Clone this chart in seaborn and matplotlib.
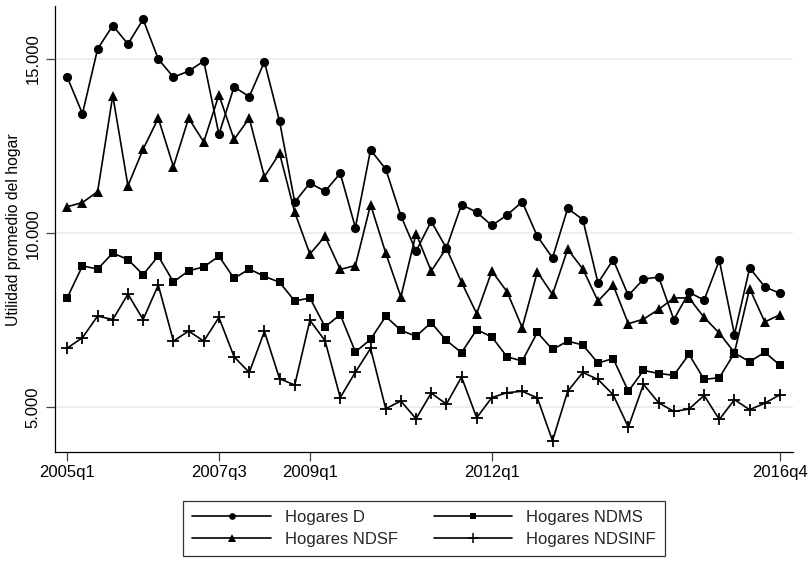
import numpy as np
import pandas as pd
import matplotlib
matplotlib.use("Agg")
import matplotlib.pyplot as plt
from matplotlib.lines import Line2D
from matplotlib.ticker import FuncFormatter, FixedLocator
import seaborn as sns

# Quarterly periods 2005q1 .. 2016q4
periods = [f"{y}q{q}" for y in range(2005, 2017) for q in range(1, 5)]

hogares_d = [14475, 13430, 15290, 15960, 15430, 16140, 15000, 14480, 14650, 14940,
             12840, 14200, 13920, 14920, 13210, 10890, 11440, 11200, 11720, 10160,
             12390, 11840, 10500, 9480, 10340, 9570, 10820, 10600, 10220, 10520,
             10900, 9910, 9290, 10710, 10390, 8570, 9240, 8210, 8680, 8740,
             7520, 8300, 8080, 9220, 7090, 9000, 8460, 8270]

hogares_ndms = [8150, 9060, 8970, 9430, 9240, 8810, 9340, 8600, 8920, 9030,
                9340, 8700, 8970, 8760, 8590, 8050, 8140, 7310, 7660, 6590,
                6950, 7610, 7210, 7040, 7430, 6920, 6570, 7230, 7020, 6450,
                6330, 7150, 6660, 6900, 6790, 6270, 6400, 5460, 6060, 5970,
                5920, 6520, 5800, 5850, 6560, 6310, 6580, 6210]

hogares_ndsf = [10760, 10880, 11190, 13950, 11360, 12410, 13300, 11910, 13300, 12620,
                13970, 12690, 13300, 11620, 12290, 10600, 9400, 9910, 8960, 9070,
                10820, 9430, 8170, 9990, 8910, 9570, 8590, 7690, 8910, 8320,
                7290, 8890, 8240, 9540, 8970, 8050, 8510, 7400, 7530, 7810,
                8140, 8140, 7580, 7130, 6570, 8410, 7450, 7660]

hogares_ndsinf = [6700, 7000, 7620, 7520, 8250, 7520, 8510, 6900, 7190, 6900,
                  7580, 6450, 6000, 7180, 5820, 5640, 7500, 6910, 5280, 6010,
                  6690, 4960, 5180, 4670, 5410, 5090, 5870, 4700, 5280, 5420,
                  5460, 5270, 4040, 5460, 6000, 5800, 5360, 4430, 5660, 5130,
                  4880, 4950, 5340, 4650, 5220, 4930, 5120, 5360]

tick_labels = ["2005q1", "2007q3", "2009q1", "2012q1", "2016q4"]
y_ticks = [5000, 10000, 15000]

df = pd.DataFrame({
    "t": np.arange(len(periods)),
    "periodo": periods,
    "Hogares D": hogares_d,
    "Hogares NDMS": hogares_ndms,
    "Hogares NDSF": hogares_ndsf,
    "Hogares NDSINF": hogares_ndsinf,
})

sns.set_theme(style="white")
plt.rcParams["font.family"] = ["Liberation Sans", "DejaVu Sans"]

fig = plt.figure(figsize=(8.09, 5.64), dpi=100)
ax = fig.add_axes([55 / 809, 1 - 452.3 / 564, (793 - 55) / 809, (452.3 - 6) / 564])

styles = {
    "Hogares D": dict(marker="o", markersize=6.6, mew=0),
    "Hogares NDMS": dict(marker="s", markersize=6.0, mew=0),
    "Hogares NDSF": dict(marker="^", markersize=7.4, mew=0),
    "Hogares NDSINF": dict(marker="+", markersize=9, mew=1.3),
}

for col in ["Hogares D", "Hogares NDSF", "Hogares NDMS", "Hogares NDSINF"]:
    sns.lineplot(data=df, x="t", y=col, ax=ax, color="black", linewidth=1.2,
                 markeredgecolor="black", legend=False, zorder=3, **styles[col])

# Axes limits, grid and ticks
ax.set_xlim(-0.811, 47.86)
ax.set_ylim(3708, 16522)
for v in y_ticks:
    ax.axhline(v, color="#e4eded", linewidth=1.2, zorder=1)

tick_pos = [periods.index(lbl) for lbl in tick_labels]
ax.xaxis.set_major_locator(FixedLocator(tick_pos))
ax.set_xticklabels(tick_labels)
ax.yaxis.set_major_locator(FixedLocator(y_ticks))
ax.yaxis.set_major_formatter(FuncFormatter(lambda v, p: f"{int(v):,}".replace(",", ".")))
for lab in ax.get_yticklabels():
    lab.set_rotation(90)
    lab.set_va("center")

ax.tick_params(axis="both", which="major", length=6.5, width=0.9, color="#444444",
               labelsize=12, labelcolor="black", pad=3, left=True, bottom=True)
ax.tick_params(axis="y", pad=4)

for side in ["top", "right"]:
    ax.spines[side].set_visible(False)
for side in ["left", "bottom"]:
    ax.spines[side].set_color("black")
    ax.spines[side].set_linewidth(0.9)

ax.set_xlabel("")
ax.set_ylabel("Utilidad promedio del hogar", fontsize=11.3, color="black", labelpad=3)
ax.grid(False)

# Legend: two columns, framed box under the plot
leg_styles = {
    "Hogares D": dict(marker="o", markersize=4.8, mew=0),
    "Hogares NDMS": dict(marker="s", markersize=5.0, mew=0),
    "Hogares NDSF": dict(marker="^", markersize=5.6, mew=0),
    "Hogares NDSINF": dict(marker="+", markersize=7, mew=1.1),
}
order = ["Hogares D", "Hogares NDSF", "Hogares NDMS", "Hogares NDSINF"]
handles = [Line2D([0], [0], color="black", linewidth=1.2, markeredgecolor="black",
                  markerfacecolor="black", **leg_styles[k]) for k in order]
leg = fig.legend(handles, order, ncol=2, loc="center",
                 bbox_to_anchor=(424 / 809, 1 - 528.5 / 564),
                 fontsize=12, frameon=True, fancybox=False, edgecolor="black",
                 handlelength=4.7, handletextpad=0.84, columnspacing=2.15,
                 labelspacing=0.45, borderpad=0.55, borderaxespad=0)
leg.get_frame().set_linewidth(0.9)

fig.savefig("out.png", dpi=100, facecolor="white")
